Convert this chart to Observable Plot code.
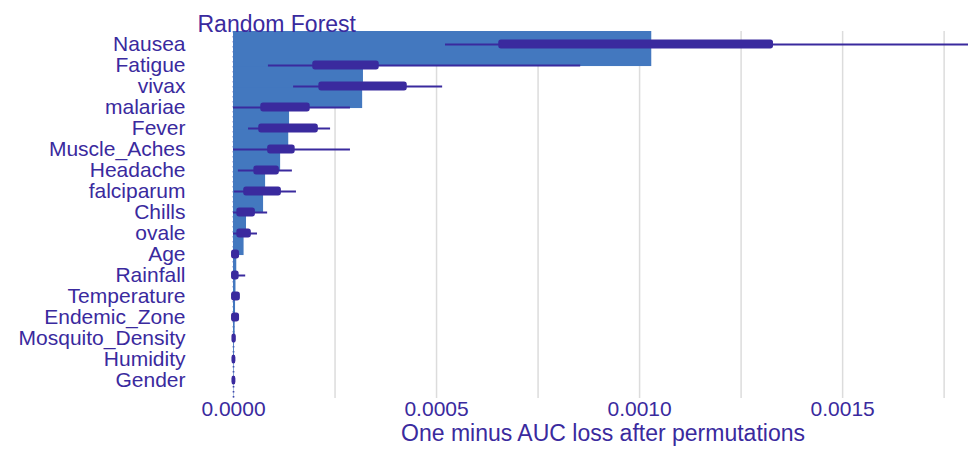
<!DOCTYPE html>
<html>
<head>
<meta charset="utf-8">
<script src="https://cdn.jsdelivr.net/npm/d3@7"></script>
<script src="https://cdn.jsdelivr.net/npm/@observablehq/plot@0.6"></script>
<style>
  html, body { margin: 0; padding: 0; background: #ffffff; }
  #chart { width: 968px; height: 457px; }
</style>
</head>
<body>
<div id="chart"></div>
<script>
// Permutation importance of a random forest: mean drop (bar) and spread over permutations (box)
const features = ["Nausea", "Fatigue", "vivax", "malariae", "Fever", "Muscle_Aches", "Headache",
  "falciparum", "Chills", "ovale", "Age", "Rainfall", "Temperature", "Endemic_Zone",
  "Mosquito_Density", "Humidity", "Gender"];

const meanLoss = [0.001030, 0.000320, 0.000318, 0.000138, 0.000136, 0.000116, 0.000079,
  0.000074, 0.000032, 0.000026, 0.000008, 0.000006, 0.000005, 0.000004, 0.000002, 0.000001, 0.000001];

const minLoss = [0.000522, 0.000086, 0.000148, 0.000000, 0.000037, 0.000000, 0.000012,
  0.000002, 0.000000, 0.000000, -0.000002, -0.000002, -0.000002, -0.000002, -0.000002, -0.000002, -0.000002];
const q1Loss = [0.000655, 0.000197, 0.000212, 0.000069, 0.000064, 0.000086, 0.000052,
  0.000027, 0.000010, 0.000010, -0.000003, -0.000003, -0.000003, -0.000003, -0.000002, -0.000002, -0.000002];
const q3Loss = [0.001328, 0.000357, 0.000426, 0.000187, 0.000207, 0.000150, 0.000111,
  0.000116, 0.000052, 0.000042, 0.000013, 0.000012, 0.000015, 0.000013, 0.000005, 0.000004, 0.000004];
const maxLoss = [0.001900, 0.000855, 0.000515, 0.000288, 0.000239, 0.000288, 0.000145,
  0.000155, 0.000084, 0.000059, 0.000013, 0.000030, 0.000015, 0.000013, 0.000005, 0.000004, 0.000004];

const xTicks = [0, 0.0005, 0.001, 0.0015];
const gridTicks = [0.00025, 0.0005, 0.00075, 0.001, 0.00125, 0.0015, 0.00175];

const rows = features.map((name, i) => ({
  i, name, mean: meanLoss[i], min: minLoss[i], q1: q1Loss[i], q3: q3Loss[i], max: maxLoss[i]
}));

const ink = "#3a2a9e";
const barFill = "#4378bf";
const barHalf = 1.05;   // bars are thicker than a row and overlap the row below
const boxHalf = 0.18;

const chart = Plot.plot({
  width: 968,
  height: 457,
  marginLeft: 197,
  marginRight: 0,
  marginTop: 31,
  marginBottom: 59,
  style: { fontFamily: "'Liberation Sans', Arial, sans-serif", color: ink, background: "#ffffff" },
  x: { domain: [-0.0000887, 0.00181] },
  y: { domain: [-0.619, 16.857], reverse: true },
  marks: [
    Plot.gridX(gridTicks, { stroke: "#dcdcdc", strokeOpacity: 1, strokeWidth: 1.5 }),
    Plot.ruleX([0], { stroke: ink, strokeDasharray: "1.5,3.5", strokeWidth: 1.6 }),
    // bars drawn from the bottom row upward so higher rows sit on top
    Plot.rect(rows.slice().reverse(), {
      x1: 0, x2: "mean",
      y1: d => d.i - barHalf, y2: d => d.i + barHalf,
      fill: barFill, clip: true
    }),
    Plot.ruleY(rows, { y: "i", x1: "min", x2: "max", stroke: ink, strokeWidth: 2, clip: true }),
    Plot.rect(rows, {
      x1: "q1", x2: "q3",
      y1: d => d.i - boxHalf, y2: d => d.i + boxHalf,
      fill: ink, stroke: ink, strokeWidth: 1.5, strokeLinejoin: "round", rx: 2, clip: true
    }),
    Plot.axisY({
      ticks: d3.range(features.length),
      tickFormat: i => features[i],
      tickSize: 0, tickPadding: 12,
      fontSize: 21, color: ink, label: null
    }),
    Plot.axisX({
      ticks: xTicks,
      tickFormat: d3.format(".4f"),
      tickSize: 0, tickPadding: 3,
      fontSize: 21, color: ink, label: null
    }),
    Plot.text(["One minus AUC loss after permutations"], {
      text: d => d, frameAnchor: "bottom", dy: 42, dx: 20,
      fontSize: 23, fill: ink
    }),
    Plot.text(["Random Forest"], {
      text: d => d, frameAnchor: "top-left", textAnchor: "start", dy: -16,
      fontSize: 23, fill: ink
    })
  ]
});

document.getElementById("chart").appendChild(chart);
</script>
</body>
</html>
